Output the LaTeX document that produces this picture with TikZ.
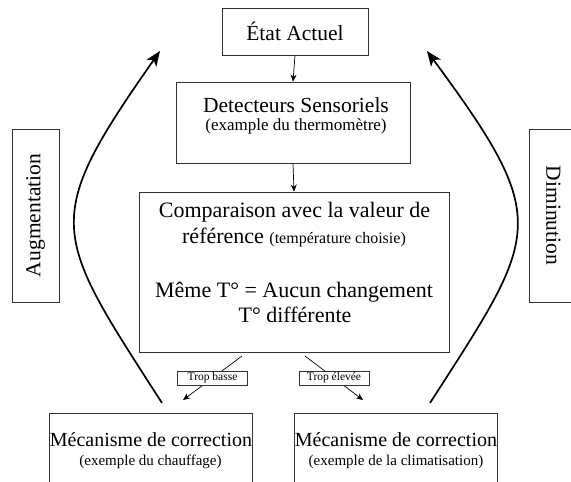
\documentclass[tikz,border=0pt]{standalone}
\usepackage{fontspec}
\setmainfont{Liberation Serif}
\usetikzlibrary{arrows.meta}
\begin{document}
\begin{tikzpicture}[x=1pt,y=-1pt,
  box/.style={draw=black!80, line width=0.8pt, inner sep=0pt},
  big/.style={inner sep=0pt, anchor=base, font=\fontsize{21.5}{26}\selectfont},
  flow/.style={-{Stealth[length=7pt,width=6pt]}, line width=0.7pt},
  swing/.style={-{Stealth[length=15pt,width=12pt,inset=4pt]}, line width=1.7pt},
  tag/.style={draw=black!80, fill=white, line width=0.6pt, inner sep=0pt,
    minimum width=70, minimum height=14, font=\fontsize{11.5}{12}\selectfont}
]
\useasboundingbox (0,0) rectangle (571,482);
\clip (0,0) rectangle (571,482);

%Etat Actuel
\node[box, big, anchor=center, minimum width=146, minimum height=47,
] (etat) at (295,31.5){État Actuel};

%Detecteurs
\node[box, minimum width=234, minimum height=81,
] (detect) at (293,122.5){};
\node[big] (detect1) at (296,112){Detecteurs Sensoriels};
\node[big, font=\fontsize{17}{20}\selectfont] (detect2) at (296,130){(example du thermomètre)};

%Comparaison
\node[box, minimum width=310, minimum height=160,
] (comp) at (294,272){};
\node[big, font=\fontsize{22}{26}\selectfont] (comp1) at (294.5,217){Comparaison avec la valeur de};
\node[big, font=\fontsize{22}{26}\selectfont] (comp2) at (294,243){référence {\fontsize{16}{18}\selectfont(température choisie)}};
\node[big, font=\fontsize{22}{26}\selectfont] (comp3) at (294,297){Même T° = Aucun changement};
\node[big, font=\fontsize{22}{26}\selectfont] (comp4) at (295,322){T° différente};

%Mecanisme Left
\node[box, minimum width=203, minimum height=90,
] (chauf) at (150.5,458){};
\node[big, font=\fontsize{20}{24}\selectfont] (chauf1) at (151,446){Mécanisme de correction};
\node[big, font=\fontsize{15}{18}\selectfont] (chauf2) at (150.5,465){(exemple du chauffage)};

%Mecanisme Right
\node[box, minimum width=203, minimum height=90,
] (clim) at (395.5,458){};
\node[big, font=\fontsize{20}{24}\selectfont] (clim1) at (396,446){Mécanisme de correction};
\node[big, font=\fontsize{15}{18}\selectfont] (clim2) at (396,465){(exemple de la climatisation)};

%Side labels
\node[box, big, anchor=center, rotate=90, minimum width=173, minimum height=47,
] (augm) at (35.5,215.5){Augmentation};
\node[box, big, anchor=center, rotate=-90, minimum width=173, minimum height=49,
] (dimi) at (553.5,215.5){Diminution};

%Free ends
\coordinate (basfrom) at (242,356);
\coordinate (basto) at (183,400);
\coordinate (elefrom) at (305,356);
\coordinate (eleto) at (363,400);
\coordinate (augfrom) at (162,403);
\coordinate (augto) at (160,51);
\coordinate (dimfrom) at (430,403);
\coordinate (dimto) at (427,51);

\draw[flow] (etat.south) -- (detect.north);
\draw[flow] (detect.south) -- (comp.north);
\draw[flow] (basfrom) -- (basto) node [midway, tag] (basse) {Trop basse};
\draw[flow] (elefrom) -- (eleto) node [midway, tag] (elevee) {Trop élevée};

\draw[swing] (augfrom) .. controls (52,232) and (40,222) .. (augto);
\draw[swing] (dimfrom) .. controls (540,232) and (553,222) .. (dimto);

\end{tikzpicture}
\end{document}
